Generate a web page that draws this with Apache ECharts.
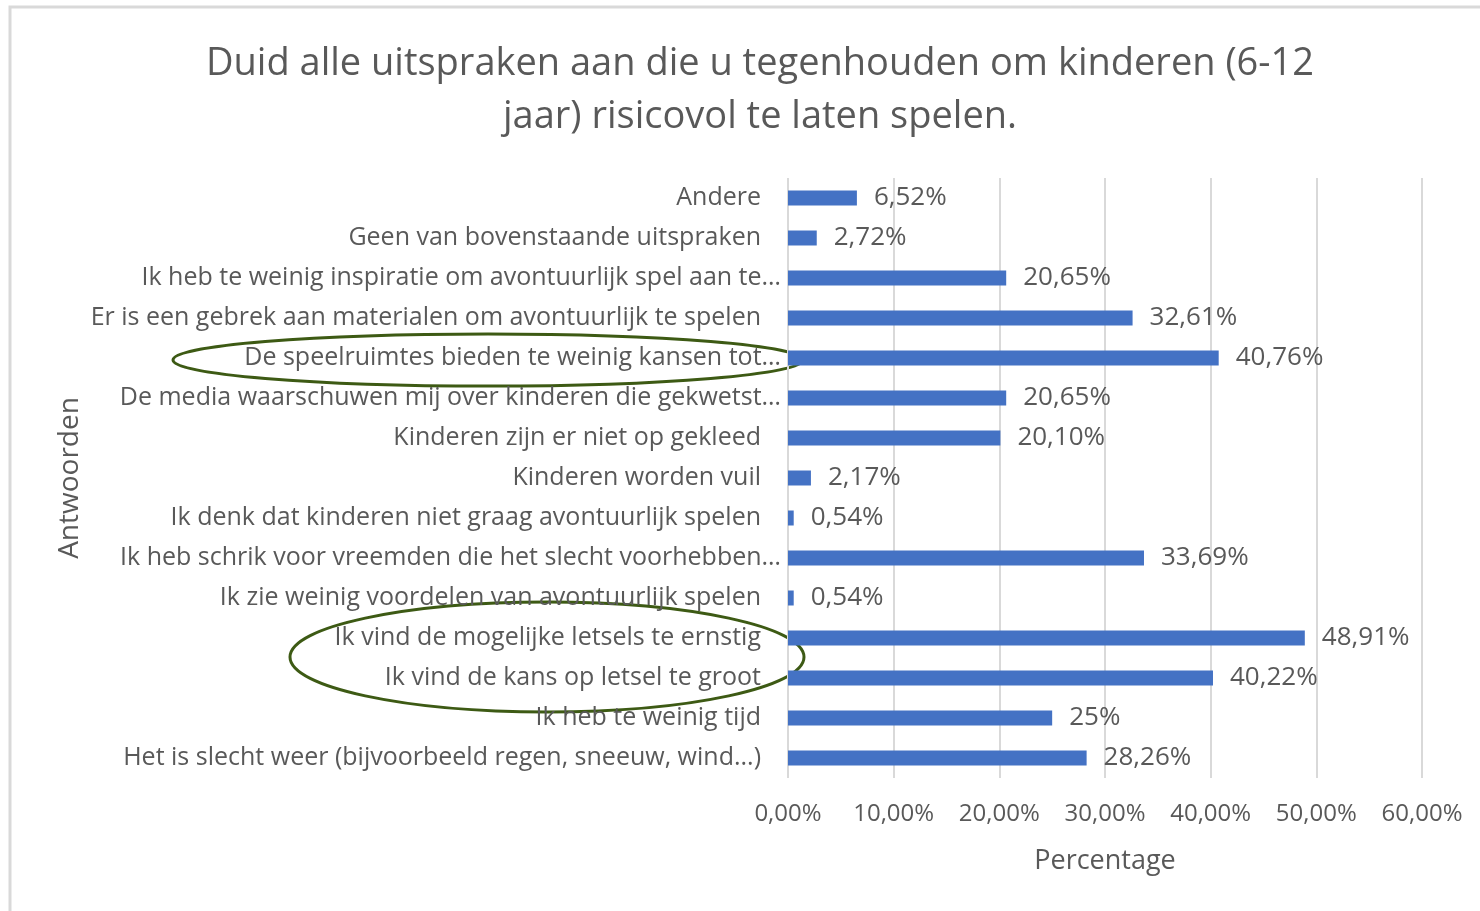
<!DOCTYPE html>
<html>
<head>
<meta charset="utf-8">
<script src="https://cdn.jsdelivr.net/npm/echarts@6/dist/echarts.min.js"></script>
<style>
  html, body { margin: 0; padding: 0; background: #fff; }
  #chart { width: 1480px; height: 911px; }
</style>
</head>
<body>
<div id="chart"></div>
<script>
var categories = [
  'Andere',
  'Geen van bovenstaande uitspraken',
  'Ik heb te weinig inspiratie om avontuurlijk spel aan te…',
  'Er is een gebrek aan materialen om avontuurlijk te spelen',
  'De speelruimtes bieden te weinig kansen tot…',
  'De media waarschuwen mij over kinderen die gekwetst…',
  'Kinderen zijn er niet op gekleed',
  'Kinderen worden vuil',
  'Ik denk dat kinderen niet graag avontuurlijk spelen',
  'Ik heb schrik voor vreemden die het slecht voorhebben…',
  'Ik zie weinig voordelen van avontuurlijk spelen',
  'Ik vind de mogelijke letsels te ernstig',
  'Ik vind de kans op letsel te groot',
  'Ik heb te weinig tijd',
  'Het is slecht weer (bijvoorbeeld regen, sneeuw, wind...)'
];
var percentages = [6.52, 2.72, 20.65, 32.61, 40.76, 20.65, 20.10, 2.17, 0.54, 33.69, 0.54, 48.91, 40.22, 25, 28.26];

var titleText = 'Duid alle uitspraken aan die u tegenhouden om kinderen (6-12\njaar) risicovol te laten spelen.';
var fontFam = '"Open Sans", Lato, sans-serif';
var grey = '#595959';

function fmtValue(v) {
  if (Number.isInteger(v)) return v + '%';
  return v.toFixed(2).replace('.', ',') + '%';
}

// Excel lets the cut-off labels (ending in …) run a bit further right
function fmtCategory(s) {
  return s.slice(-1) === '…' ? '{cut|' + s + '}' : '{full|' + s + '}';
}

var chart = echarts.init(document.getElementById('chart'), null, {renderer: 'canvas'});
chart.setOption({
  animation: false,
  backgroundColor: '#fff',
  title: {
    text: titleText,
    left: 755,
    top: 33,
    textAlign: 'center',
    textStyle: { fontFamily: fontFam, fontSize: 38, fontWeight: 'normal', color: grey, lineHeight: 53 }
  },
  grid: { left: 788, right: 58, top: 178, bottom: 133, containLabel: false },
  xAxis: {
    type: 'value',
    min: 0,
    max: 60,
    interval: 10,
    name: 'Percentage',
    nameLocation: 'middle',
    nameGap: 70,
    nameTextStyle: { fontFamily: fontFam, fontSize: 27, color: grey },
    axisLine: { show: false },
    axisTick: { show: false },
    axisLabel: {
      margin: 24,
      fontFamily: fontFam, fontSize: 24, color: grey,
      formatter: function (v) { return v.toFixed(2).replace('.', ',') + '%'; }
    },
    splitLine: { show: true, lineStyle: { color: '#d9d9d9', width: 2 } }
  },
  yAxis: {
    type: 'category',
    data: categories,
    inverse: true,
    name: 'Antwoorden',
    nameLocation: 'middle',
    nameGap: 704,
    nameRotate: 90,
    nameTextStyle: { fontFamily: fontFam, fontSize: 28, color: grey },
    axisLine: { show: false },
    axisTick: { show: false },
    axisLabel: {
      margin: 7,
      fontFamily: fontFam, fontSize: 25, color: grey,
      formatter: fmtCategory,
      rich: {
        full: { fontFamily: fontFam, fontSize: 25, color: grey, padding: [0, 20, 0, 0] },
        cut: { fontFamily: fontFam, fontSize: 25, color: grey }
      }
    }
  },
  series: [{
    type: 'bar',
    data: percentages,
    barWidth: 15,
    itemStyle: { color: '#4472C4' },
    label: {
      show: true,
      position: 'right',
      distance: 17,
      fontFamily: fontFam,
      fontSize: 26,
      color: grey,
      formatter: function (p) { return fmtValue(p.value); }
    }
  }],
  graphic: [
    {
      type: 'rect',
      shape: { x: 10, y: 7, width: 1500, height: 1000 },
      style: { fill: 'none', stroke: '#d9d9d9', lineWidth: 3 },
      silent: true
    },
    {
      type: 'ellipse',
      shape: { cx: 488, cy: 360, rx: 315, ry: 26 },
      style: { fill: 'none', stroke: '#3d5a14', lineWidth: 3 },
      silent: true
    },
    {
      type: 'ellipse',
      shape: { cx: 547, cy: 657, rx: 257, ry: 55 },
      style: { fill: 'none', stroke: '#3d5a14', lineWidth: 3 },
      silent: true
    }
  ]
});
</script>
</body>
</html>
